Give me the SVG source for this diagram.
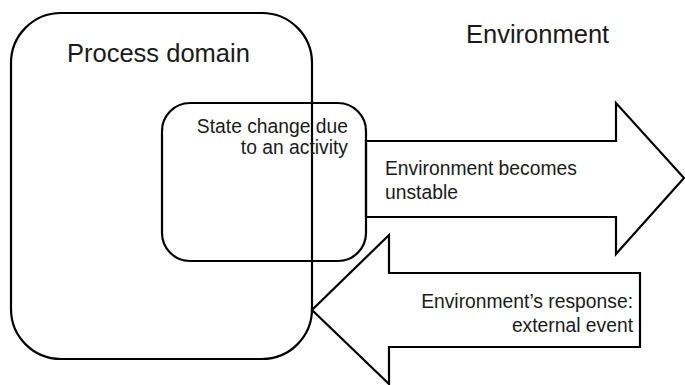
<svg xmlns="http://www.w3.org/2000/svg" width="685" height="385" viewBox="0 0 685 385">
<style>
.shape{fill:none;stroke:#000;stroke-width:2.2}
.arrow{fill:#fff;stroke:#000;stroke-width:2.2;stroke-linejoin:miter}
.big{font-family:"Liberation Sans",Arial,sans-serif;font-size:25.5px;fill:#1a1a1a}
.small{font-family:"Liberation Sans",Arial,sans-serif;font-size:19.3px;fill:#1a1a1a}
</style>
<rect width="685" height="385" fill="#fff"/>
<g id="connectors">
<polygon id="arrow-unstable" class="arrow" points="366,141 616,141 616,103 684,178 616,254 616,217 366,217"/>
<polygon id="arrow-response" class="arrow" points="640,273 389,273 389,235 312,310 389,384 389,347 640,347"/>
</g>
<g id="process-domain">
<rect class="shape" x="11" y="13" width="301" height="346" rx="50" ry="50"/>
<text class="big" x="67" y="62">Process domain</text>
</g>
<g id="state-change">
<rect class="shape" x="162" y="103" width="204" height="158" rx="28" ry="28"/>
<text class="small" x="348" y="133" text-anchor="end">State change due</text>
<text class="small" x="348" y="154" text-anchor="end">to an activity</text>
</g>
<g id="environment">
<text class="big" x="466" y="43">Environment</text>
</g>
<g id="label-unstable">
<text class="small" x="385" y="175">Environment becomes</text>
<text class="small" x="385" y="199">unstable</text>
</g>
<g id="label-response">
<text class="small" x="633" y="308" text-anchor="end">Environment’s response:</text>
<text class="small" x="633" y="332" text-anchor="end">external event</text>
</g>
</svg>
